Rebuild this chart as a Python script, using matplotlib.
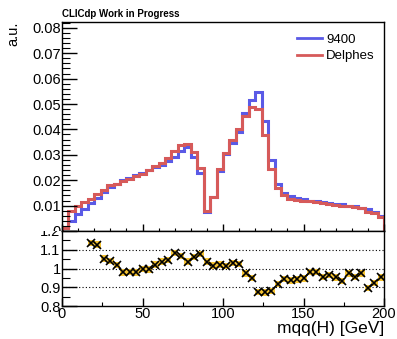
import numpy as np
import matplotlib
matplotlib.use("Agg")
import matplotlib.pyplot as plt
from matplotlib.transforms import Bbox, TransformedBbox
from matplotlib.ticker import MultipleLocator

plt.rcParams['font.family'] = ['Liberation Sans', 'DejaVu Sans']

# ---- data ----
bin_edges = np.arange(0, 204, 4)  # 50 bins of 4 GeV
h_9400 = [0.0010, 0.0040, 0.0067, 0.0087, 0.0111, 0.0130, 0.0154, 0.0173, 0.0184, 0.0200,
          0.0209, 0.0220, 0.0227, 0.0241, 0.0251, 0.0258, 0.0275, 0.0292, 0.0316, 0.0330,
          0.0293, 0.0230, 0.0074, 0.0132, 0.0238, 0.0303, 0.0347, 0.0391, 0.0464, 0.0514,
          0.0549, 0.0433, 0.0278, 0.0187, 0.0148, 0.0136, 0.0131, 0.0126, 0.0120, 0.0117,
          0.0115, 0.0111, 0.0108, 0.0106, 0.0100, 0.0097, 0.0092, 0.0085, 0.0076, 0.0060]
h_delphes = [0.0013, 0.0079, 0.0100, 0.0113, 0.0126, 0.0147, 0.0162, 0.0180, 0.0187, 0.0196,
             0.0205, 0.0215, 0.0226, 0.0240, 0.0256, 0.0268, 0.0288, 0.0316, 0.0337, 0.0342,
             0.0311, 0.0247, 0.0077, 0.0134, 0.0243, 0.0307, 0.0357, 0.0401, 0.0452, 0.0489,
             0.0480, 0.0378, 0.0244, 0.0171, 0.0140, 0.0127, 0.0123, 0.0119, 0.0118, 0.0115,
             0.0110, 0.0107, 0.0103, 0.0099, 0.0097, 0.0093, 0.0090, 0.0076, 0.0070, 0.0057]
ratio_x = np.arange(18, 200, 4)
ratio = [1.137, 1.128, 1.053, 1.040, 1.019, 0.979, 0.982, 0.979, 0.996, 0.995,
         1.021, 1.037, 1.047, 1.084, 1.066, 1.037, 1.061, 1.077, 1.037, 1.016,
         1.021, 1.014, 1.030, 1.025, 0.974, 0.951, 0.875, 0.873, 0.879, 0.916,
         0.945, 0.937, 0.942, 0.947, 0.982, 0.982, 0.956, 0.965, 0.953, 0.933,
         0.974, 0.956, 0.974, 0.895, 0.924, 0.953]
ratio_err = [0.017] * len(ratio)

W, H = 397, 339
fig = plt.figure(figsize=(W / 100, H / 100), dpi=100)

def fy(px):
    return 1 - px / H

left = 62 / W
width = (384 - 62) / W
ax1 = fig.add_axes([left, fy(231), width, fy(22) - fy(231)])
ax2 = fig.add_axes([left, fy(306), width, fy(231) - fy(306)])

blue = '#5a5ae6'
red = '#d65a5a'
ax1.stairs(h_9400, bin_edges, color=blue, lw=2.2, label='9400')
ax1.stairs(h_delphes, bin_edges, color=red, lw=2.2, label='Delphes')
ax1.set_xlim(0, 200)
ax1.set_ylim(0, 0.0823)
ax1.yaxis.set_major_locator(MultipleLocator(0.01))
ax1.yaxis.set_minor_locator(MultipleLocator(0.002))
ax1.xaxis.set_major_locator(MultipleLocator(50))
ax1.xaxis.set_minor_locator(MultipleLocator(10))
ax1.set_yticks(np.arange(0, 0.081, 0.01))
ax1.set_yticklabels(['0'] + ['%.2f' % v for v in np.arange(0.01, 0.081, 0.01)])
ax1.tick_params(axis='y', which='major', direction='in', length=11, width=1, labelsize=10.5, pad=1)
ax1.tick_params(axis='y', which='minor', direction='in', length=5.5, width=0.8)
ax1.tick_params(axis='x', which='major', direction='in', length=5, width=1, labelbottom=False)
ax1.tick_params(axis='x', which='minor', direction='in', length=2.5, width=0.8)
for s in ax1.spines.values():
    s.set_linewidth(1)

leg = ax1.legend(loc='upper right', bbox_to_anchor=(1.0, 0.99), frameon=False,
                 fontsize=9.5, handlelength=1.9, handletextpad=0.3, labelspacing=0.35,
                 borderaxespad=0.3)
for l in leg.get_lines():
    l.set_linewidth(2)

ax1.set_ylabel('a.u.', fontsize=10.5, loc='top', labelpad=8)

# lower ratio panel
ax2.bar(ratio_x, [2 * e for e in ratio_err], bottom=[r - e for r, e in zip(ratio, ratio_err)],
        width=4, color='#f5c331', edgecolor='none', zorder=2)
ax2.plot(ratio_x, ratio, linestyle='none', marker='x', color='black', ms=5.5, mew=1.2, zorder=3)
for yv in (0.9, 1.0, 1.1):
    ax2.axhline(yv, color='black', lw=0.8, ls=(0, (1, 2)), zorder=1)
ax2.set_xlim(0, 200)
ax2.set_ylim(0.8, 1.2)
ax2.set_yticks([0.8, 0.9, 1.0, 1.1, 1.2])
ax2.set_yticklabels(['0.8', '0.9', '1', '1.1', '1.2'])
ax2.yaxis.set_minor_locator(MultipleLocator(0.05))
ax2.xaxis.set_major_locator(MultipleLocator(50))
ax2.xaxis.set_minor_locator(MultipleLocator(25))
ax2.tick_params(axis='y', which='major', direction='in', length=11, width=1, labelsize=10.5, pad=1)
ax2.tick_params(axis='y', which='minor', direction='in', length=5.5, width=0.8)
ax2.tick_params(axis='x', which='major', direction='in', length=6, width=1, labelsize=10.5, pad=1)
ax2.tick_params(axis='x', which='minor', direction='in', length=3, width=0.8)
for s in ax2.spines.values():
    s.set_linewidth(1)
ax2.set_xlabel('mqq(H) [GeV]', fontsize=12.5, loc='right', labelpad=0)

# clip tick labels to their pads like the original
upper_clip = TransformedBbox(Bbox([[0, fy(231)], [1, 1]]), fig.transFigure)
lower_clip = TransformedBbox(Bbox([[0, 0], [1, fy(231)]]), fig.transFigure)
for t in ax1.yaxis.get_major_ticks():
    t.label1.set_clip_box(upper_clip)
    t.label1.set_clip_on(True)
for t in ax2.yaxis.get_major_ticks():
    t.label1.set_clip_box(lower_clip)
    t.label1.set_clip_on(True)

fig.text(62 / W, fy(17), 'CLICdp Work in Progress', fontsize=7, fontweight='bold')

fig.savefig('out.png', dpi=100)
